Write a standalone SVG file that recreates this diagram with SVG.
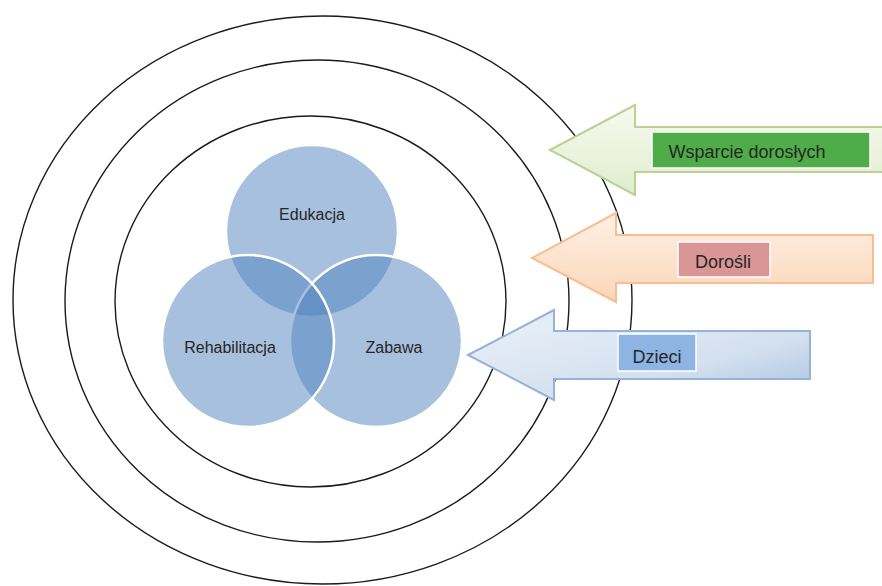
<svg xmlns="http://www.w3.org/2000/svg" width="882" height="586" viewBox="0 0 882 586">
  <defs>
    <linearGradient id="gGreen" x1="0" y1="0" x2="0" y2="1">
      <stop offset="0" stop-color="#F6FAF0"/>
      <stop offset="1" stop-color="#E1ECCD"/>
    </linearGradient>
    <linearGradient id="gOrange" x1="0" y1="0" x2="0" y2="1">
      <stop offset="0" stop-color="#FEF1E6"/>
      <stop offset="1" stop-color="#FBD6B8"/>
    </linearGradient>
    <linearGradient id="gBlue" x1="0.2" y1="0.2" x2="1" y2="1">
      <stop offset="0" stop-color="#E4ECF6"/>
      <stop offset="0.55" stop-color="#D3E0EF"/>
      <stop offset="1" stop-color="#A9C2E0"/>
    </linearGradient>
  </defs>
  <style>
    .ring { fill: none; stroke: #1a1a1a; stroke-width: 1.4; }
    .venn { fill: #4F81BD; fill-opacity: 0.5; stroke: #FFFFFF; stroke-width: 2.5; stroke-opacity: 1; }
    .vt { font-family: "Liberation Sans", Arial, sans-serif; font-size: 16px; fill: #262626; text-anchor: middle; }
    .at { font-family: "Liberation Sans", Arial, sans-serif; font-size: 18px; fill: #262626; text-anchor: middle; }
    .lbl { stroke: #FFFFFF; stroke-width: 1.5; }
  </style>
  <rect width="882" height="586" fill="#FFFFFF"/>

  <g id="rings">
    <ellipse id="ring-outer" class="ring" cx="322.5" cy="300" rx="309.5" ry="284"/>
    <ellipse id="ring-middle" class="ring" cx="317" cy="301" rx="252" ry="241"/>
    <ellipse id="ring-inner" class="ring" cx="310.5" cy="301.5" rx="195.5" ry="185.5"/>
  </g>

  <g id="venn">
    <g id="node-edukacja">
      <circle class="venn" cx="312" cy="231" r="86"/>
    </g>
    <g id="node-zabawa">
      <circle class="venn" cx="376" cy="341" r="86"/>
    </g>
    <g id="node-rehabilitacja">
      <circle class="venn" cx="248" cy="341" r="86"/>
    </g>
    <text class="vt" x="312" y="220">Edukacja</text>
    <text class="vt" x="230" y="353">Rehabilitacja</text>
    <text class="vt" x="394" y="353">Zabawa</text>
  </g>

  <g id="connectors">
    <g id="arrow-wsparcie">
      <polygon points="550,150 635,105 635,127 884,127 884,172 635,172 635,195" fill="url(#gGreen)" stroke="#BCD294" stroke-width="2" stroke-linejoin="miter"/>
      <rect class="lbl" x="652" y="132" width="218" height="36" fill="#4EAD48"/>
      <text class="at" x="747" y="158">Wsparcie dorosłych</text>
    </g>
    <g id="arrow-dorosli">
      <polygon points="532,258 616,213 616,235 873,235 873,283 616,283 616,302" fill="url(#gOrange)" stroke="#F8BE90" stroke-width="2"/>
      <rect class="lbl" x="678" y="242" width="92" height="35" fill="#D99694"/>
      <text class="at" x="723" y="268">Dorośli</text>
    </g>
    <g id="arrow-dzieci">
      <polygon points="468,355 554,310 554,331 810,331 810,379 554,379 554,400" fill="url(#gBlue)" stroke="#95B3D7" stroke-width="2"/>
      <rect class="lbl" x="618" y="334" width="78" height="37" fill="#8DB4E2"/>
      <text class="at" x="657" y="363">Dzieci</text>
    </g>
  </g>
</svg>
